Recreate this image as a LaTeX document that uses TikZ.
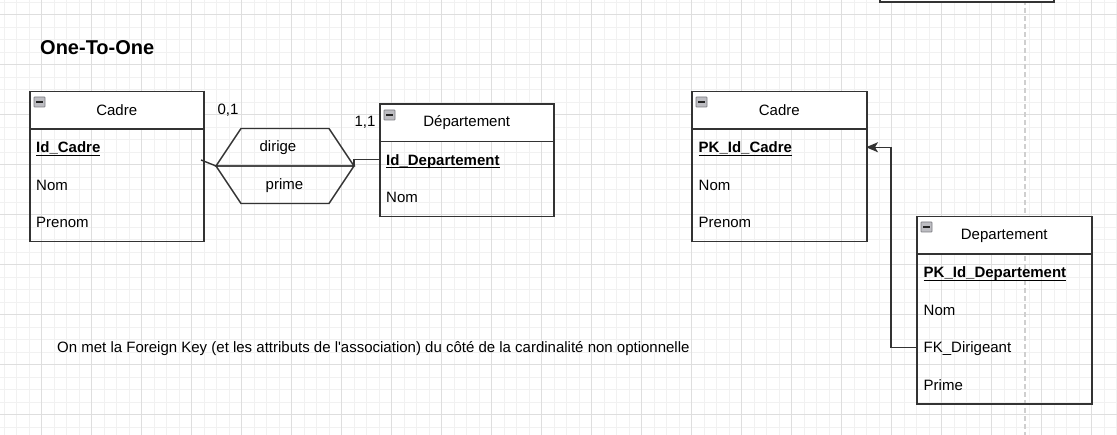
\documentclass[tikz,border=0pt]{standalone}
\usepackage{fontspec}
\setmainfont{Liberation Sans}[Ligatures=TeXOff]
\usetikzlibrary{arrows.meta}
\definecolor{gridmajor}{HTML}{DEDEDE}
\definecolor{gridminor}{HTML}{F1F1F1}
\definecolor{edgecol}{HTML}{333333}
\definecolor{iconfill}{HTML}{BDBDC2}
\definecolor{icondraw}{HTML}{7A7A80}
\definecolor{dashcol}{HTML}{CFCFCF}
\newlength\keyulw
\newcommand{\keyul}[1]{\settowidth{\keyulw}{#1}\rlap{\rule[-3.2pt]{\keyulw}{1.1pt}}#1}
\tikzset{
  txt/.style={font=\fontsize{15}{18}\selectfont, inner sep=0pt, text=black},
  rowtxt/.style={txt, anchor=base west, yshift=-5.4pt},
  keytxt/.style={rowtxt, font=\fontsize{15}{18}\selectfont\bfseries},
  titletxt/.style={inner sep=0pt, font=\fontsize{20}{24}\selectfont\bfseries},
  tablebody/.style={draw=edgecol, line width=1.5pt, inner sep=0pt, anchor=north west},
  tablehead/.style={draw=edgecol, line width=1.5pt, fill=white, inner sep=0pt, anchor=north west, minimum height=37.5pt, font=\fontsize{15}{18}\selectfont},
  conn/.style={draw=edgecol, line width=1.4pt},
  relshape/.style={draw=edgecol, line width=1.4pt, fill=none, line join=miter},
}
\newcommand{\tblicon}[2]{%
  \fill[iconfill, draw=icondraw, line width=0.8pt, rounded corners=0.6pt] (#1,#2) rectangle ++(11,10);
  \draw[edgecol!70!black, line width=1.4pt] (#1+2,#2+5) -- ++(7,0);
}
\begin{document}
\begin{tikzpicture}[x=1pt, y=-1pt]
\path[use as bounding box, fill=white] (0,0) rectangle (1117,435);
% grid
\begin{scope}
\clip (0,0) rectangle (1117,435);
\foreach \k in {0,...,89} {
  \draw[gridminor, line width=1pt] ({4.2+12.5*\k},0) -- ({4.2+12.5*\k},435);
}
\foreach \k in {0,...,35} {
  \draw[gridminor, line width=1pt] (0,{2.5+12.5*\k}) -- (1117,{2.5+12.5*\k});
}
\foreach \k in {0,...,21} {
  \draw[gridmajor, line width=1pt] ({41.7+50*\k},0) -- ({41.7+50*\k},435);
}
\foreach \k in {0,...,8} {
  \draw[gridmajor, line width=1pt] (0,{15+50*\k}) -- (1117,{15+50*\k});
}
% dashed divider
\draw[dashcol, line width=1.6pt, dash pattern=on 5pt off 3pt] (1025,0) -- (1025,435);
% top-right box
\node[draw=edgecol, fill=white, line width=1.5pt, inner sep=0pt, minimum width=174pt, minimum height=20pt, anchor=south west] (topbox) at (879,3) {};
\end{scope}

% title
\node[titletxt, anchor=base west] (title) at (40,54.2) {One-To-One};

% ---- Left Cadre
\node[tablebody, minimum width=174pt, minimum height=112.5pt] (cadreA) at (29,128.5) {};
\node[tablehead, minimum width=174pt] (cadreAh) at (29,91) {Cadre};
\tblicon{34}{97}
\node[keytxt] (cadreAid) at (36,147.25) {\keyul{Id\_Cadre}};
\node[rowtxt] (cadreAnom) at (36,184.75) {Nom};
\node[rowtxt] (cadreApre) at (36,222.25) {Prenom};

% ---- Departement (conceptual)
\node[tablebody, minimum width=174pt, minimum height=75pt] (depA) at (379,141) {};
\node[tablehead, minimum width=174pt] (depAh) at (379,103.5) {Département};
\tblicon{384}{110}
\node[keytxt] (depAid) at (386,159.75) {\keyul{Id\_Departement}};
\node[rowtxt] (depAnom) at (386,197.25) {Nom};

% ---- relationship hexagon
\coordinate (hexL) at (216,166);
\coordinate (hexR) at (354,166);
\draw[relshape] (hexL) -- (241,128.5) -- (329,128.5) -- (hexR) -- cycle;
\draw[relshape] (hexL) -- (241,203.5) -- (329,203.5) -- (hexR) -- cycle;
\node[txt] (dirige) at (278,147.5) {dirige};
\node[txt] (prime) at (284.5,185.5) {prime};

% connectors
\coordinate (cadreAport) at (201,160);
\coordinate (depAport) at (379,159.75);
\draw[conn] (cadreAport) -- (hexL);
\draw[conn] (hexR) |- (depAport);
\node[txt] (card01) at (228,110) {0,1};
\node[txt] (card11) at (365,122) {1,1};

% ---- Right Cadre
\node[tablebody, minimum width=175pt, minimum height=112.5pt] (cadreB) at (691,128.5) {};
\node[tablehead, minimum width=175pt] (cadreBh) at (691,91) {Cadre};
\tblicon{696}{97}
\node[keytxt] (cadreBpk) at (698.5,147.25) {\keyul{PK\_Id\_Cadre}};
\node[rowtxt] (cadreBnom) at (698.5,184.75) {Nom};
\node[rowtxt] (cadreBpre) at (698.5,222.25) {Prenom};

% ---- Right Departement
\node[tablebody, minimum width=175pt, minimum height=150pt] (depB) at (916,253.5) {};
\node[tablehead, minimum width=175pt] (depBh) at (916,216) {Departement};
\tblicon{921}{222}
\node[keytxt] (depBpk) at (923.5,272.25) {\keyul{PK\_Id\_Departement}};
\node[rowtxt] (depBnom) at (923.5,309.75) {Nom};
\node[rowtxt] (depBfk) at (923.5,347.25) {FK\_Dirigeant};
\node[rowtxt] (depBprime) at (923.5,384.75) {Prime};

% foreign key arrow
\coordinate (fkport) at (916,347.25);
\coordinate (pkport) at (866,147.25);
\draw[conn, -{Stealth[length=12pt, width=10pt, inset=3pt]}] (fkport) -- ++(-25,0) |- (pkport);

% footnote
\node[rowtxt] (note) at (57,347) {On met la Foreign Key (et les attributs de l'association) du côté de la cardinalité non optionnelle};
\end{tikzpicture}
\end{document}
